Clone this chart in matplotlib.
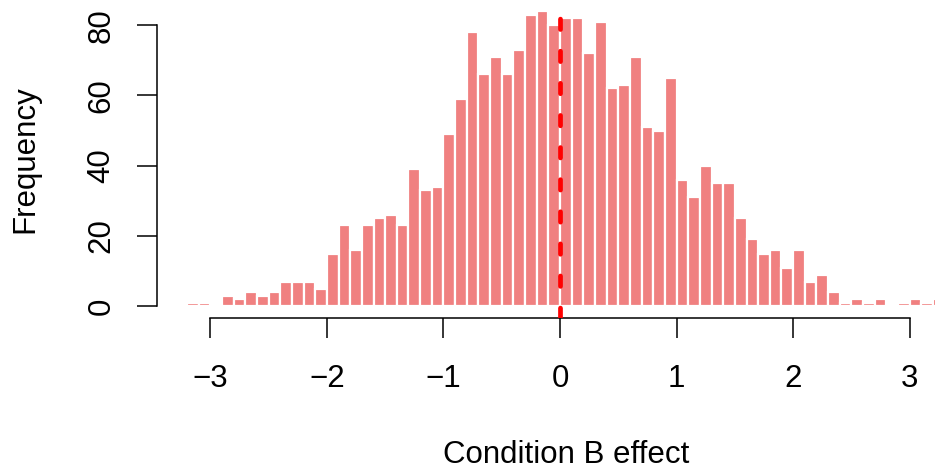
import numpy as np
import matplotlib
matplotlib.use("Agg")
import matplotlib.pyplot as plt

plt.rcParams['font.family'] = ['Liberation Sans', 'DejaVu Sans']

# Histogram of the Condition B effect: bins of width 0.1 starting at -3.2
bin_start = -3.2
bin_width = 0.1
counts = [1, 1, 0, 3, 2, 4, 3, 4, 7, 7,
          7, 5, 15, 23, 16, 23, 25, 26, 23, 39,
          33, 34, 49, 59, 78, 66, 71, 66, 73, 83,
          84, 80, 82, 82, 72, 81, 62, 63, 71, 51,
          50, 65, 36, 31, 40, 35, 35, 25, 19, 15,
          16, 11, 16, 7, 9, 4, 1, 2, 1, 2,
          0, 1, 2, 1, 2]
x_ticks = [-3, -2, -1, 0, 1, 2, 3]
y_ticks = [0, 20, 40, 60, 80]
ref_value = 0

left_edges = np.round(bin_start + bin_width * np.arange(len(counts)), 2)

W, H = 935, 470
fs = 22.5
fig = plt.figure(figsize=(W / 100, H / 100), dpi=100)
ax = fig.add_axes([156.7 / W, 1 - 318 / H, (975 - 156.7) / W, 318.6 / H])

ax.bar(left_edges, counts, width=bin_width, align='edge',
       color='lightcoral', edgecolor='white', linewidth=1.6, zorder=2)
ax.axvline(ref_value, color='red', lw=3.4, linestyle=(0, (2.2, 4.6)),
           dash_capstyle='round', zorder=3)

ax.set_xlim(-3.46, 3.56)
ax.set_ylim(-3.36, 87.36)

for s in ('top', 'right'):
    ax.spines[s].set_visible(False)
ax.spines['left'].set_bounds(y_ticks[0], y_ticks[-1])
ax.spines['bottom'].set_bounds(x_ticks[0], x_ticks[-1])
for s in ('left', 'bottom'):
    ax.spines[s].set_linewidth(1.1)

ax.set_xticks(x_ticks)
ax.set_yticks(y_ticks)
ax.tick_params(axis='both', length=14.4, width=1.1, labelsize=fs)
ax.tick_params(axis='x', pad=18.5)
ax.tick_params(axis='y', pad=14.5, labelrotation=90)
for lab in ax.get_yticklabels():
    lab.set_verticalalignment('center')

ax.set_xlabel('Condition B effect', fontsize=fs)
ax.xaxis.set_label_coords(0.5, -0.384)
ax.set_ylabel('Frequency', fontsize=fs)
ax.yaxis.set_label_coords(-0.142, 0.5)

fig.savefig('out.png', dpi=100)
